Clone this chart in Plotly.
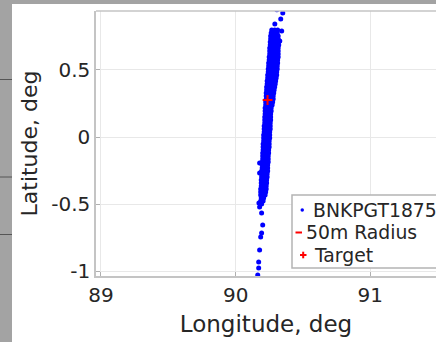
import numpy as np
import plotly.graph_objects as go

# ---- data ----
series_name = "BNKPGT1875"
radius_name = "50m Radius"
target_name = "Target"
target_lon = 90.237
target_lat = 0.276
radius_m = 50.0

band_lat = [0.799, 0.776, 0.754, 0.731, 0.709, 0.687, 0.664, 0.642, 0.619, 0.597,
            0.575, 0.552, 0.530, 0.507, 0.485, 0.463, 0.440, 0.418, 0.396, 0.373,
            0.351, 0.328, 0.306, 0.284, 0.261, 0.239, 0.216, 0.194, 0.172, 0.149,
            0.127, 0.104, 0.082, 0.060, 0.037, 0.015, -0.007, -0.030, -0.052, -0.075,
            -0.097, -0.119, -0.142, -0.164, -0.187, -0.209, -0.231, -0.254, -0.276, -0.299,
            -0.321, -0.343, -0.366, -0.388, -0.410, -0.433, -0.455, -0.478, -0.500]
band_lon = [
    [90.268, 90.290, 90.312],
    [90.264, 90.286, 90.309],
    [90.260, 90.279, 90.297, 90.316],
    [90.260, 90.279, 90.297, 90.316],
    [90.257, 90.275, 90.297, 90.320],
    [90.257, 90.275, 90.297, 90.320],
    [90.253, 90.275, 90.297, 90.316],
    [90.253, 90.275, 90.294, 90.316],
    [90.253, 90.271, 90.294, 90.316],
    [90.249, 90.271, 90.294, 90.316],
    [90.249, 90.271, 90.290, 90.312],
    [90.245, 90.268, 90.290, 90.312],
    [90.245, 90.268, 90.290, 90.309],
    [90.242, 90.264, 90.286, 90.309],
    [90.242, 90.264, 90.286, 90.305],
    [90.238, 90.260, 90.283, 90.305],
    [90.238, 90.260, 90.283, 90.301],
    [90.234, 90.257, 90.279, 90.297],
    [90.234, 90.257, 90.275, 90.294],
    [90.230, 90.253, 90.275, 90.290],
    [90.230, 90.253, 90.271, 90.286],
    [90.227, 90.249, 90.268, 90.283],
    [90.227, 90.249, 90.268, 90.279],
    [90.227, 90.245, 90.264, 90.279],
    [90.223, 90.242, 90.260, 90.275],
    [90.223, 90.242, 90.260, 90.271],
    [90.219, 90.242, 90.264],
    [90.219, 90.242, 90.264],
    [90.219, 90.238, 90.260],
    [90.216, 90.238, 90.260],
    [90.216, 90.238, 90.260],
    [90.216, 90.234, 90.257],
    [90.212, 90.234, 90.257],
    [90.212, 90.234, 90.257],
    [90.212, 90.230, 90.253],
    [90.208, 90.230, 90.253],
    [90.208, 90.230, 90.253],
    [90.208, 90.227, 90.249],
    [90.204, 90.227, 90.249],
    [90.204, 90.227, 90.249],
    [90.204, 90.223, 90.245],
    [90.201, 90.223, 90.245],
    [90.201, 90.223, 90.242],
    [90.201, 90.219, 90.242],
    [90.197, 90.219, 90.242],
    [90.197, 90.219, 90.238],
    [90.197, 90.216, 90.238],
    [90.193, 90.216, 90.238],
    [90.193, 90.216, 90.234],
    [90.193, 90.212, 90.234],
    [90.190, 90.212, 90.230],
    [90.190, 90.212, 90.230],
    [90.190, 90.208, 90.227],
    [90.186, 90.208, 90.227],
    [90.186, 90.204, 90.223],
    [90.186, 90.204, 90.219],
    [90.190, 90.208],
    [90.186, 90.204],
    [90.193],
]
extra_lon = [90.306, 90.350, 90.291, 90.335, 90.342, 90.328,
             90.178, 90.178, 90.173,
             90.178, 90.193, 90.201, 90.193, 90.186, 90.178, 90.171, 90.171, 90.164]
extra_lat = [0.949, 0.925, 0.843, 0.881, 0.791, 0.716,
             -0.194, -0.269, -0.493,
             -0.522, -0.567, -0.657, -0.716, -0.746, -0.843, -0.933, -0.978, -1.030]

x_ticks = [89, 90, 91]
y_ticks = [-1, -0.5, 0, 0.5]
y_tick_text = ["-1", "-0.5", "0", "0.5"]

# ---- build ----
pts_lon, pts_lat = [], []
for la, row in zip(band_lat, band_lon):
    for lo in row:
        pts_lon.append(lo)
        pts_lat.append(la)
pts_lon += extra_lon
pts_lat += extra_lat

# 50 m circle around the target (degrees)
r_deg = radius_m / 111320.0
ang = np.linspace(0, 2 * np.pi, 61)
circ_lon = target_lon + r_deg * np.cos(ang) / np.cos(np.radians(target_lat))
circ_lat = target_lat + r_deg * np.sin(ang)

FONT = "DejaVu Sans"
TXT = "#262626"
BLUE = "#0000ff"
RED = "#ff0000"

fig = go.Figure()
fig.add_trace(go.Scatter(x=pts_lon, y=pts_lat, mode="markers", name=series_name,
                         marker=dict(color=BLUE, size=5, line=dict(width=0))))
fig.add_trace(go.Scatter(x=circ_lon, y=circ_lat, mode="lines", name=radius_name,
                         line=dict(color=RED, width=1.5)))
fig.add_trace(go.Scatter(x=[target_lon], y=[target_lat], mode="markers", name=target_name,
                         marker=dict(symbol="cross-thin", size=7, color=RED,
                                     line=dict(color=RED, width=2))))

W, H = 436, 342
ml, mt, mb = 96, 11, 66

def px_x(p):
    return (p - ml) / (W - ml)

def px_y(p):
    return (H - mb - p) / (H - mt - mb)

shapes = [
    # top border of the axes box
    dict(type="line", xref="paper", yref="paper", x0=0, x1=1, y0=1, y1=1,
         line=dict(color="#c4c4c4", width=1.5)),
    # gray window frame
    dict(type="rect", xref="paper", yref="paper", x0=px_x(0), x1=px_x(12),
         y0=px_y(H), y1=px_y(0), fillcolor="#a3a3a3", line=dict(width=0), layer="above"),
    dict(type="rect", xref="paper", yref="paper", x0=px_x(0), x1=px_x(W + 2),
         y0=px_y(4), y1=px_y(0), fillcolor="#a3a3a3", line=dict(width=0), layer="above"),
]
for yy in (79.5, 177, 234.5):
    shapes.append(dict(type="line", xref="paper", yref="paper", x0=px_x(0), x1=px_x(12),
                       y0=px_y(yy), y1=px_y(yy), line=dict(color="#555555", width=1),
                       layer="above"))

# legend box (MATLAB style, compact)
lg_left, lg_top, lg_bot = 292, 195, 268
rows_y = [210, 232.5, 255]
shapes.append(dict(type="rect", xref="paper", yref="paper", x0=px_x(lg_left), x1=px_x(W + 10),
                   y0=px_y(lg_bot), y1=px_y(lg_top), fillcolor="white",
                   line=dict(color="#b4b4b4", width=1.5), layer="above"))
# legend symbols
shapes.append(dict(type="circle", xref="paper", yref="paper",
                   x0=px_x(300.5), x1=px_x(304), y0=px_y(rows_y[0] + 1.7), y1=px_y(rows_y[0] - 1.8),
                   fillcolor=BLUE, line=dict(width=0), layer="above"))
shapes.append(dict(type="line", xref="paper", yref="paper",
                   x0=px_x(295.5), x1=px_x(302), y0=px_y(rows_y[1]), y1=px_y(rows_y[1]),
                   line=dict(color=RED, width=2), layer="above"))
shapes.append(dict(type="line", xref="paper", yref="paper",
                   x0=px_x(300), x1=px_x(306.5), y0=px_y(rows_y[2]), y1=px_y(rows_y[2]),
                   line=dict(color=RED, width=2), layer="above"))
shapes.append(dict(type="line", xref="paper", yref="paper",
                   x0=px_x(303.2), x1=px_x(303.2), y0=px_y(rows_y[2] + 3.3), y1=px_y(rows_y[2] - 3.3),
                   line=dict(color=RED, width=2), layer="above"))

annotations = []
for name, xs, yy in ((series_name, 310.5, rows_y[0]), (radius_name, 303.5, rows_y[1]),
                     (target_name, 311.5, rows_y[2])):
    annotations.append(dict(text=name, xref="paper", yref="paper", x=px_x(xs), y=px_y(yy),
                            xanchor="left", yanchor="middle", showarrow=False,
                            font=dict(family=FONT, size=18.8, color=TXT)))

fig.update_layout(
    width=W, height=H,
    margin=dict(l=ml, r=0, t=mt, b=mb, autoexpand=False),
    paper_bgcolor="white", plot_bgcolor="white",
    font=dict(family=FONT, color=TXT, size=20),
    showlegend=False,
    shapes=shapes,
    annotations=annotations,
    xaxis=dict(range=[88.963, 91.488], tickvals=x_ticks, ticktext=[str(v) for v in x_ticks],
               showgrid=True, gridcolor="#e8e8e8", gridwidth=1,
               showline=True, linecolor="#c4c4c4", linewidth=1.5, mirror=False,
               ticks="inside", ticklen=4, tickcolor="#b0b0b0", zeroline=False,
               tickfont=dict(family=FONT, size=20, color=TXT),
               title=dict(text="Longitude, deg", font=dict(family=FONT, size=23, color=TXT),
                          standoff=10)),
    yaxis=dict(range=[-1.037, 0.94], tickvals=y_ticks, ticktext=y_tick_text,
               showgrid=True, gridcolor="#e8e8e8", gridwidth=1,
               showline=True, linecolor="#c4c4c4", linewidth=1.5, mirror=False,
               ticks="inside", ticklen=4, tickcolor="#b0b0b0", zeroline=False,
               tickfont=dict(family=FONT, size=20, color=TXT),
               title=dict(text="Latitude, deg", font=dict(family=FONT, size=22, color=TXT),
                          standoff=8)),
)

fig.write_html("out.html")
